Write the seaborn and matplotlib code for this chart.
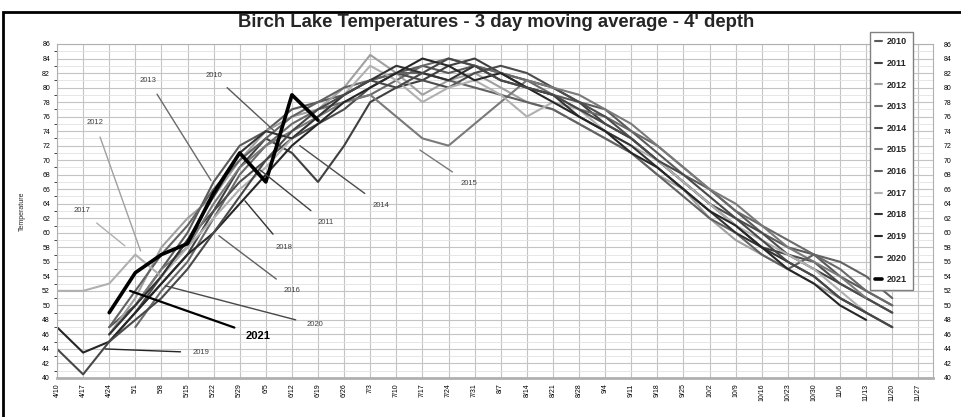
import numpy as np
import pandas as pd
import matplotlib
matplotlib.use("Agg")
import matplotlib.pyplot as plt
import seaborn as sns
from matplotlib.patches import Rectangle

# weekly category labels on the x axis
date_labels = ["4/10", "4/17", "4/24", "5/1", "5/8", "5/15", "5/22", "5/29", "6/5", "6/12",
               "6/19", "6/26", "7/3", "7/10", "7/17", "7/24", "7/31", "8/7", "8/14", "8/21",
               "8/28", "9/4", "9/11", "9/18", "9/25", "10/2", "10/9", "10/16", "10/23", "10/30",
               "11/6", "11/13", "11/20", "11/27"]
weeks = np.arange(len(date_labels))
N = None

# 3 day moving average temperatures (F), one value per week
t2010 = [N, N, 47, 50, 55, 60, 67, 72, 74, 77, 78, 79, 81, 82, 83, 82, 83, 82, 80, 79, 78, 77, 74, 71, 68, 66, 63, 60, 58, 57, 54, 52, 50, N]
t2011 = [N, N, N, 49, 53, 57, 63, 69, 73, 71, 67, 72, 78, 80, 81, 83, 84, 82, 81, 80, 78, 75, 73, 70, 67, 64, 61, 58, 57, 55, 53, 51, 49, N]
t2012 = [N, N, 46, 51, 58, 62, 65, 70, 74, 76, 77, 80, 84.5, 82, 79, 81, 82, 80, 78, 77, 75, 73, 71, 68, 66, 62, 59, 57, 55, 53, 51, 49, N, N]
t2013 = [N, N, N, 47, 52, 56, 62, 68, 72, 75, 77, 78, 79, 81, 83, 84, 83, 82, 81, 79, 77, 76, 74, 72, 69, 66, 63, 61, 59, 57, 55, 52, 50, N]
t2014 = [N, N, 45, 49, 54, 59, 63, 67, 70, 73, 75, 77, 80, 82, 81, 80, 82, 83, 82, 80, 78, 76, 73, 70, 67, 64, 62, 60, 57, 56, 53, 51, 49, N]
t2015 = [N, N, 46, 50, 55, 58, 64, 69, 72, 74, 76, 78, 79, 76, 73, 72, 75, 78, 81, 80, 79, 77, 75, 72, 69, 66, 64, 61, 58, 56, 54, 51, N, N]
t2016 = [N, N, 47, 52, 57, 61, 66, 70, 73, 76, 78, 80, 81, 82, 82, 81, 80, 79, 78, 77, 75, 73, 71, 68, 65, 62, 60, 57, 55, 57, 56, 54, 51, N]
t2017 = [52, 52, 53, 57, 54, 58, 62, 66, 69, 73, 76, 79, 83, 81, 78, 80, 81, 79, 76, 78, 77, 74, 72, 70, 67, 64, 61, 59, 57, 55, 52, 49, N, N]
t2018 = [N, N, 46, 50, 54, 59, 65, 71, 74, 73, 76, 79, 81, 83, 82, 81, 83, 81, 80, 79, 76, 74, 72, 69, 66, 63, 60, 58, 56, 54, 51, 49, 47, N]
t2019 = [47, 43.5, 45, 49, 53, 57, 60, 64, 68, 72, 75, 78, 80, 82, 84, 83, 81, 82, 80, 78, 76, 74, 71, 69, 66, 63, 61, 58, 55, 53, 50, 48, N, N]
t2020 = [44, 40.5, 45, 48, 51, 55, 60, 65, 70, 74, 77, 79, 81, 80, 82, 84, 83, 81, 80, 79, 77, 75, 73, 70, 68, 65, 62, 59, 56, 54, 51, 49, 47, N]
t2021 = [N, N, 49, 54.5, 57, 58.5, 65.5, 71, 67, 79, 75.5, N, N, N, N, N, N, N, N, N, N, N, N, N, N, N, N, N, N, N, N, N, N, N]

years = [2010, 2011, 2012, 2013, 2014, 2015, 2016, 2017, 2018, 2019, 2020, 2021]
series = [t2010, t2011, t2012, t2013, t2014, t2015, t2016, t2017, t2018, t2019, t2020, t2021]
greys = ["#5a5a5a", "#404040", "#a0a0a0", "#6a6a6a", "#4c4c4c", "#7a7a7a",
         "#626262", "#b0b0b0", "#333333", "#262626", "#484848", "#000000"]

# callout labels: year, text position (week, F), point on line (week, F)
callouts = [
    (2012, (1.45, 75.2), (3.2, 57.5)),
    (2013, (3.5, 81.0), (5.9, 67.2)),
    (2010, (6.0, 81.7), (8.3, 74.1)),
    (2017, (0.95, 63.0), (2.6, 58.2)),
    (2021, (7.7, 45.8), (2.8, 52.0)),
    (2019, (5.5, 43.5), (1.85, 44.0)),
    (2020, (9.9, 47.3), (4.15, 52.7)),
    (2016, (9.0, 52.0), (6.2, 59.6)),
    (2018, (8.7, 58.0), (7.2, 64.4)),
    (2011, (10.3, 61.4), (7.8, 68.6)),
    (2014, (12.4, 63.8), (9.3, 72.0)),
    (2015, (15.8, 66.8), (13.9, 71.4)),
]

sns.set_style("white")
plt.rcParams["font.family"] = ["Liberation Sans", "DejaVu Sans"]

fig = plt.figure(figsize=(9.61, 4.17), dpi=100)
ax = fig.add_axes([57 / 961, 1 - 378 / 417, (933 - 57) / 961, (378 - 44) / 417])

for yr, vals, col in zip(years, series, greys):
    df = pd.DataFrame({"week": weeks, "temp": vals}).dropna()
    lw = 2.6 if yr == 2021 else 1.5
    sns.lineplot(data=df, x="week", y="temp", color=col, linewidth=lw, ax=ax, label=str(yr))

for yr, txt_pos, pt in callouts:
    col = greys[years.index(yr)]
    bold = yr == 2021
    ax.annotate(str(yr), xy=pt, xytext=txt_pos, fontsize=8 if bold else 5.5,
                fontweight="bold" if bold else "normal", color=col if bold else "#404040",
                ha="center", va="center",
                arrowprops=dict(arrowstyle="-", color=col, lw=1.6 if bold else 1.0,
                                shrinkA=6, shrinkB=0))

ax.set_xlim(0, 33.56)
ax.set_ylim(40, 86)
ax.set_xticks(weeks)
ax.set_xticklabels(date_labels, rotation=90, fontsize=5)
ax.set_yticks(np.arange(40, 87, 2))
ax.set_yticks(np.arange(40, 87, 1), minor=True)
ax.tick_params(axis="y", labelsize=5, length=0, pad=5, labelcolor="black")
ax.tick_params(axis="x", length=0, pad=4, labelcolor="black")
ax.grid(True, which="major", color="#c4c4c4", lw=0.8)
ax.grid(True, which="minor", axis="y", color="#e2e2e2", lw=0.6)
ax.set_xlabel("")
ax.set_ylabel("Temperature", fontsize=5, labelpad=12)
for s in ax.spines.values():
    s.set_color("#b0b0b0")
ax.spines["bottom"].set_linewidth(2)

ax2 = ax.twinx()
ax2.set_ylim(40, 86)
ax2.set_yticks(np.arange(40, 87, 2))
ax2.tick_params(axis="y", labelsize=5, length=0, pad=8, labelcolor="black")
for s in ax2.spines.values():
    s.set_visible(False)

leg = ax.legend(loc="upper right", bbox_to_anchor=(0.982, 1.05), fontsize=6.5,
                handlelength=0.7, labelspacing=1.4, borderpad=0.6, handletextpad=0.6,
                fancybox=False, framealpha=1, edgecolor="#808080")
for t in leg.get_texts():
    t.set_fontweight("bold")

fig.text(0.516, 0.945, "Birch Lake Temperatures - 3 day moving average - 4' depth",
         ha="center", va="center", fontsize=13.3, fontweight="bold")
fig.patches.append(Rectangle((3 / 961, -0.1), 1.2, 0.971 + 0.1, transform=fig.transFigure,
                             fill=False, lw=2, ec="black"))

fig.savefig("out.png", dpi=100)
